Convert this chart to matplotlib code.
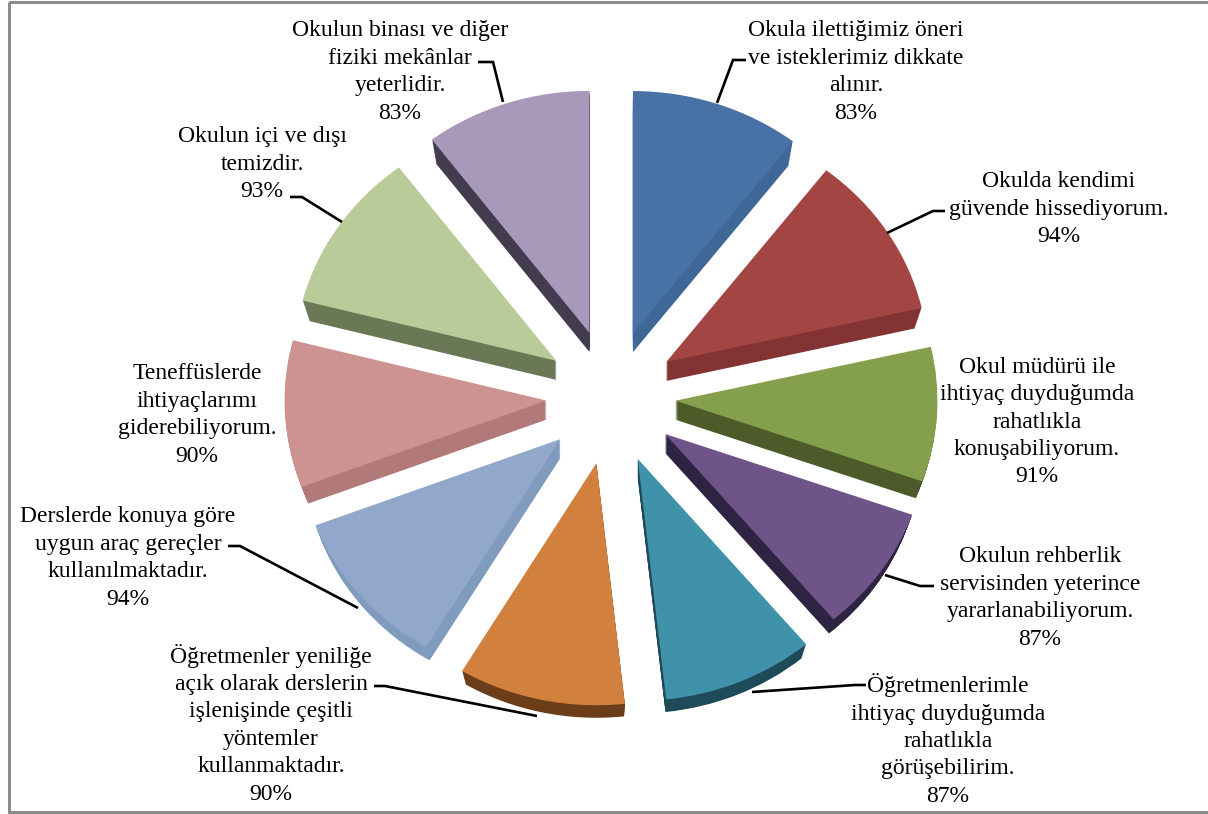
import matplotlib
matplotlib.use("Agg")
import matplotlib.pyplot as plt
from matplotlib.patches import Rectangle
import numpy as np

plt.rcParams["font.family"] = ["Liberation Serif", "DejaVu Serif"]

W, H = 1208, 814
labels = [
    "Okula ilettiğimiz öneri\nve isteklerimiz dikkate\nalınır.",
    "Okulda kendimi\ngüvende hissediyorum.",
    "Okul müdürü ile\nihtiyaç duyduğumda\nrahatlıkla\nkonuşabiliyorum.",
    "Okulun rehberlik\nservisinden yeterince\nyararlanabiliyorum.",
    "Öğretmenlerimle\nihtiyaç duyduğumda\nrahatlıkla\ngörüşebilirim.",
    "Öğretmenler yeniliğe\naçık olarak derslerin\nişlenişinde çeşitli\nyöntemler\nkullanmaktadır.",
    "Derslerde konuya göre\nuygun araç gereçler\nkullanılmaktadır.",
    "Teneffüslerde\nihtiyaçlarımı\ngiderebiliyorum.",
    "Okulun içi ve dışı\ntemizdir.",
    "Okulun binası ve diğer\nfiziki mekânlar\nyeterlidir.",
]
values = [83, 94, 91, 87, 87, 90, 94, 90, 93, 83]
top_colors = ["#4872A6", "#A34542", "#85A04C", "#6E5489", "#3F92AA",
              "#D1813D", "#92A8CB", "#CD9391", "#B9CB98", "#A898BA"]
side_colors = ["#3F6899", "#833333", "#4C5B29", "#2E2340", "#1E4A59",
               "#6B3D18", "#819BBE", "#B17977", "#6B7856", "#433B4E"]
label_x = [856, 1059, 1037, 1040, 948, 271, 128, 197, 262, 400]
label_y = [72, 209, 422, 598, 740, 724, 558, 415, 164, 72]
leaders = [
    [(717, 103), (733, 60), (746, 60)],
    [(887, 233), (933, 211), (945, 211)],
    [],
    [(885, 575), (920, 586), (934, 586)],
    [(752, 692), (855, 685), (866, 685)],
    [(537, 716), (385, 686), (374, 686)],
    [(358, 608), (240, 546), (228, 546)],
    [],
    [(342, 222), (302, 197), (290, 197)],
    [(503, 102), (493, 62), (478, 62)],
]

CX, CY = 611, 397
SX, SY = 262, 242
EX, EY = 64.5, 68
DEPTH = 19
SHRINK = 7


def warp(b):
    # bearing in degrees, perspective of the tilted 3D pie
    r = np.radians(b)
    return (b + 4.3 * np.sin(2 * r) + 3.7 * np.sin(r)
            - 2.5 * (1 - np.cos(r)) + 2.5 * np.sin(r) ** 2)


def to_data(d):
    # displayed bearing -> bearing in the stretched data units
    r = np.radians(d)
    return np.degrees(np.arctan2(np.sin(r) / SX, np.cos(r) / SY))


def draw_layer(ax, colors, dy):
    radius = 1 - SHRINK / SX * dy / DEPTH
    wedges, _ = ax.pie(values, colors=colors, startangle=90, counterclock=False,
                       radius=radius, wedgeprops=dict(linewidth=0), frame=True)
    for w in wedges:
        b1, b2 = warp(90 - w.theta2), warp(90 - w.theta1)
        m = np.radians((b1 + b2) / 2)
        w.set_center((EX / SX * np.sin(m), EY / SY * np.cos(m) - dy / SY))
        w.set_theta1(90 - to_data(b2) % 360 if b2 < 359.9 else -270)
        w.set_theta2(90 - to_data(b1) if b1 > 0.1 else 90)


fig = plt.figure(figsize=(W / 100, H / 100), dpi=100)

# pie axes, 1 data unit = SX px across and SY px up
ax = fig.add_axes([0, 0, 1, 1])
for k in range(DEPTH, 0, -1):
    draw_layer(ax, side_colors, k)
draw_layer(ax, top_colors, 0)
ax.set_aspect("auto")
ax.set_xlim(-CX / SX, (W - CX) / SX)
ax.set_ylim(-(H - CY) / SY, CY / SY)
ax.axis("off")

# overlay in picture pixels for frame, leader lines and labels
ov = fig.add_axes([0, 0, 1, 1])
ov.set_xlim(0, W)
ov.set_ylim(H, 0)
ov.axis("off")
ov.patch.set_alpha(0)
ov.add_patch(Rectangle((8.5, 1.5), W, 810, fill=False, edgecolor="#8C8C8C", linewidth=2.2))

for pts in leaders:
    if pts:
        ov.plot([p[0] for p in pts], [p[1] for p in pts], color="black", linewidth=1.9,
                solid_capstyle="butt", solid_joinstyle="miter")

for lab, v, x, y in zip(labels, values, label_x, label_y):
    ov.text(x, y, f"{lab}\n{v}%", ha="center", va="center", fontsize=17,
            linespacing=1.4, color="black")

fig.savefig("out.png", dpi=100)
